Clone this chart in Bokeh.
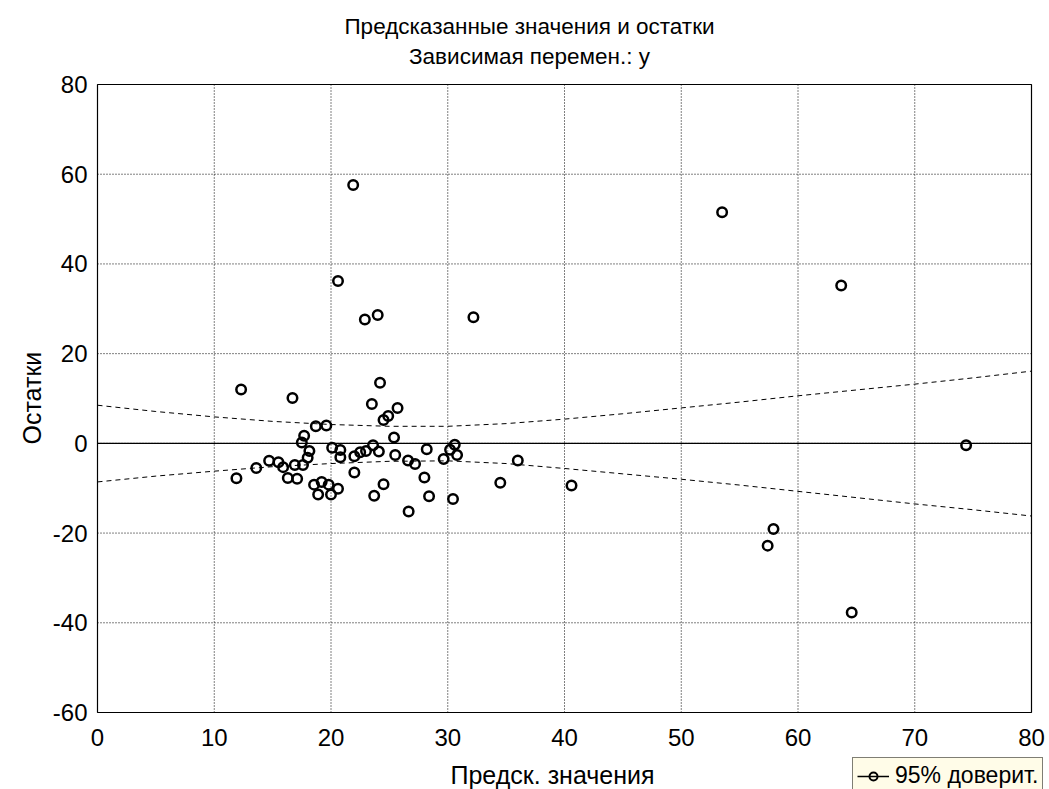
from bokeh.plotting import figure
from bokeh.models import Title, Legend, LegendItem, FixedTicker, Range1d
from bokeh.core.properties import value
from bokeh.embed import file_html
from bokeh.resources import INLINE

# Predicted values (x) and residuals (y)
predicted = [11.9, 12.3, 13.6, 14.7, 15.5, 15.9, 16.3, 16.7, 16.9, 17.1,
             17.5, 17.6, 17.7, 18.0, 18.15, 18.55, 18.7, 18.9, 19.2, 19.6,
             19.8, 20.0, 20.1, 20.6, 20.6, 20.8, 20.8, 21.9, 22.0, 22.0,
             22.5, 22.9, 23.0, 23.5, 23.6, 23.7, 24.0, 24.1, 24.2, 24.5,
             24.5, 24.9, 25.4, 25.5, 25.7, 26.6, 26.65, 27.2, 28.0, 28.2,
             28.4, 29.65, 30.2, 30.45, 30.6, 30.8, 32.2, 34.5, 36.0, 40.6,
             53.5, 57.4, 57.9, 63.7, 64.6, 74.4]
residuals = [-7.8, 12.0, -5.5, -3.9, -4.2, -5.3, -7.7, 10.1, -4.8, -7.9,
             0.2, -4.8, 1.7, -3.2, -1.7, -9.2, 3.8, -11.4, -8.6, 4.0,
             -9.2, -11.4, -1.0, 36.2, -10.1, -1.5, -3.1, 57.6, -6.5, -2.9,
             -2.0, 27.6, -1.7, 8.8, -0.4, -11.7, 28.6, -1.8, 13.5, 5.2,
             -9.1, 6.1, 1.3, -2.6, 7.9, -3.8, -15.2, -4.6, -7.6, -1.3,
             -11.8, -3.5, -1.4, -12.4, -0.3, -2.6, 28.1, -8.8, -3.8, -9.4,
             51.5, -22.8, -19.1, 35.2, -37.7, -0.4]

# 95% confidence band
band_x = [0, 5, 10, 15, 20, 25, 30, 35, 40, 45, 50, 55, 60, 65, 70, 75, 80]
band_upper = [8.5, 7.1, 5.9, 4.9, 4.2, 3.8, 3.8, 4.4, 5.4, 6.6, 7.9, 9.2,
              10.6, 11.9, 13.2, 14.6, 16.1]
band_lower = [-8.6, -7.3, -6.2, -5.2, -4.5, -4.0, -3.9, -4.5, -5.6, -6.8,
              -8.0, -9.3, -10.7, -12.1, -13.5, -14.8, -16.2]

x_ticks = [0, 10, 20, 30, 40, 50, 60, 70, 80]
y_ticks = [-60, -40, -20, 0, 20, 40, 60, 80]
x_tick_labels = ["0", "10", "20", "30", "40", "50", "60", "70", "80"]
y_tick_labels = ["-60", "-40", "-20", "0", "20", "40", "60", "80"]

title_lines = ["Предсказанные значения и остатки", "Зависимая перемен.: y"]
x_label = "Предск. значения"
y_label = "Остатки"
legend_label = "95% доверит."

FONT = "Liberation Sans"

# ---- geometry (pixels) ----
W, H = 1049, 789
FRAME_L = 89                       # frame extends to top, right & bottom edges
PX_X0, PX_X80 = 97, 1031           # where x=0 and x=80 sit
PX_Y80, PX_YM60 = 84, 712          # where y=80 and y=-60 sit
kx = (PX_X80 - PX_X0) / (x_ticks[-1] - x_ticks[0])
ky = (PX_YM60 - PX_Y80) / (y_ticks[-1] - y_ticks[0])
x_start = x_ticks[0] - (PX_X0 - FRAME_L) / kx
x_end = x_start + (W - FRAME_L) / kx
y_end = y_ticks[-1] + PX_Y80 / ky
y_start = y_end - H / ky

p = figure(width=W, height=H,
           x_range=Range1d(x_start, x_end), y_range=Range1d(y_start, y_end),
           x_axis_location=None, y_axis_location="left",
           output_backend="svg", toolbar_location=None,
           min_border_left=FRAME_L, min_border_right=0,
           min_border_top=0, min_border_bottom=0)
p.background_fill_color = "white"
p.border_fill_color = "white"
p.outline_line_color = None
p.xgrid.visible = False
p.ygrid.visible = False

# y axis (real axis, only labels)
ax = p.yaxis[0]
ax.ticker = FixedTicker(ticks=y_ticks)
ax.major_label_overrides = dict(zip(y_ticks, y_tick_labels))
ax.major_tick_in = 0
ax.major_tick_out = 0
ax.minor_tick_in = 0
ax.minor_tick_out = 0
ax.axis_line_color = None
ax.major_label_standoff = 2
ax.major_label_text_font = FONT
ax.major_label_text_font_size = "24px"
ax.major_label_text_color = "black"

# y axis title on the left
p.add_layout(Title(text=y_label, align="left", offset=345, standoff=8,
                   text_font=FONT, text_font_size="25px",
                   text_font_style="normal", text_color="black"), "left")

# dotted grid (interior ticks only)
gx = x_ticks[1:-1]
gy = y_ticks[1:-1]
p.segment(x0=gx, y0=[y_ticks[0]] * len(gx), x1=gx, y1=[y_ticks[-1]] * len(gx),
          line_color="black", line_width=1, line_dash="1 2")
p.segment(x0=[x_ticks[0]] * len(gy), y0=gy, x1=[x_ticks[-1]] * len(gy), y1=gy,
          line_color="black", line_width=1, line_dash="1 2")

# zero line
p.segment(x0=[x_ticks[0]], y0=[0], x1=[x_ticks[-1]], y1=[0],
          line_color="black", line_width=1.3)

# frame box
p.quad(left=[x_ticks[0]], right=[x_ticks[-1]], bottom=[y_ticks[0]],
       top=[y_ticks[-1]], fill_color=None, line_color="black", line_width=1.2)

# confidence band
p.line(band_x, band_upper, line_color="black", line_width=1, line_dash="5 4")
p.line(band_x, band_lower, line_color="black", line_width=1, line_dash="5 4")

# points
p.scatter(predicted, residuals, marker="circle", size=9.5,
          fill_color=None, line_color="black", line_width=2.5)

x_mid = (x_ticks[0] + x_ticks[-1]) / 2

# two-line title above the plot box
p.text(x=[x_mid, x_mid], y=[y_ticks[-1], y_ticks[-1]], text=title_lines,
       text_align="center", text_baseline="alphabetic", x_offset=-35,
       y_offset=[-58, -28], text_font=value(FONT), text_font_size="22.5px",
       text_color="black")

# x tick labels and x axis title
p.text(x=x_ticks, y=[y_ticks[0]] * len(x_ticks), text=x_tick_labels,
       text_align="center", text_baseline="alphabetic", y_offset=25,
       text_font=value(FONT), text_font_size="24px", text_color="black")
p.text(x=[x_mid], y=[y_ticks[0]], text=[x_label],
       text_align="center", text_baseline="alphabetic", x_offset=-12,
       y_offset=62, text_font=value(FONT), text_font_size="25px",
       text_color="black")

# legend (glyph-only helper renderers with a single empty point)
nan = float("nan")
legend_line = p.line(x=[nan], y=[nan], line_color="black", line_width=1.5)
legend_pt = p.scatter(x=[nan], y=[nan], marker="circle", size=8,
                      fill_color=None, line_color="black", line_width=2)
legend = Legend(items=[LegendItem(label=legend_label,
                                  renderers=[legend_line, legend_pt])],
                location=(852 - FRAME_L, -5))
legend.border_line_color = "black"
legend.border_line_width = 1
legend.background_fill_color = "#FFFCE8"
legend.background_fill_alpha = 1
legend.label_text_font = FONT
legend.label_text_font_size = "23px"
legend.label_text_color = "black"
legend.padding = 4
legend.margin = 0
legend.spacing = 0
legend.glyph_width = 32
legend.glyph_height = 20
legend.label_standoff = 6
p.add_layout(legend, "center")

open("out.html", "w").write(file_html(p, INLINE))
